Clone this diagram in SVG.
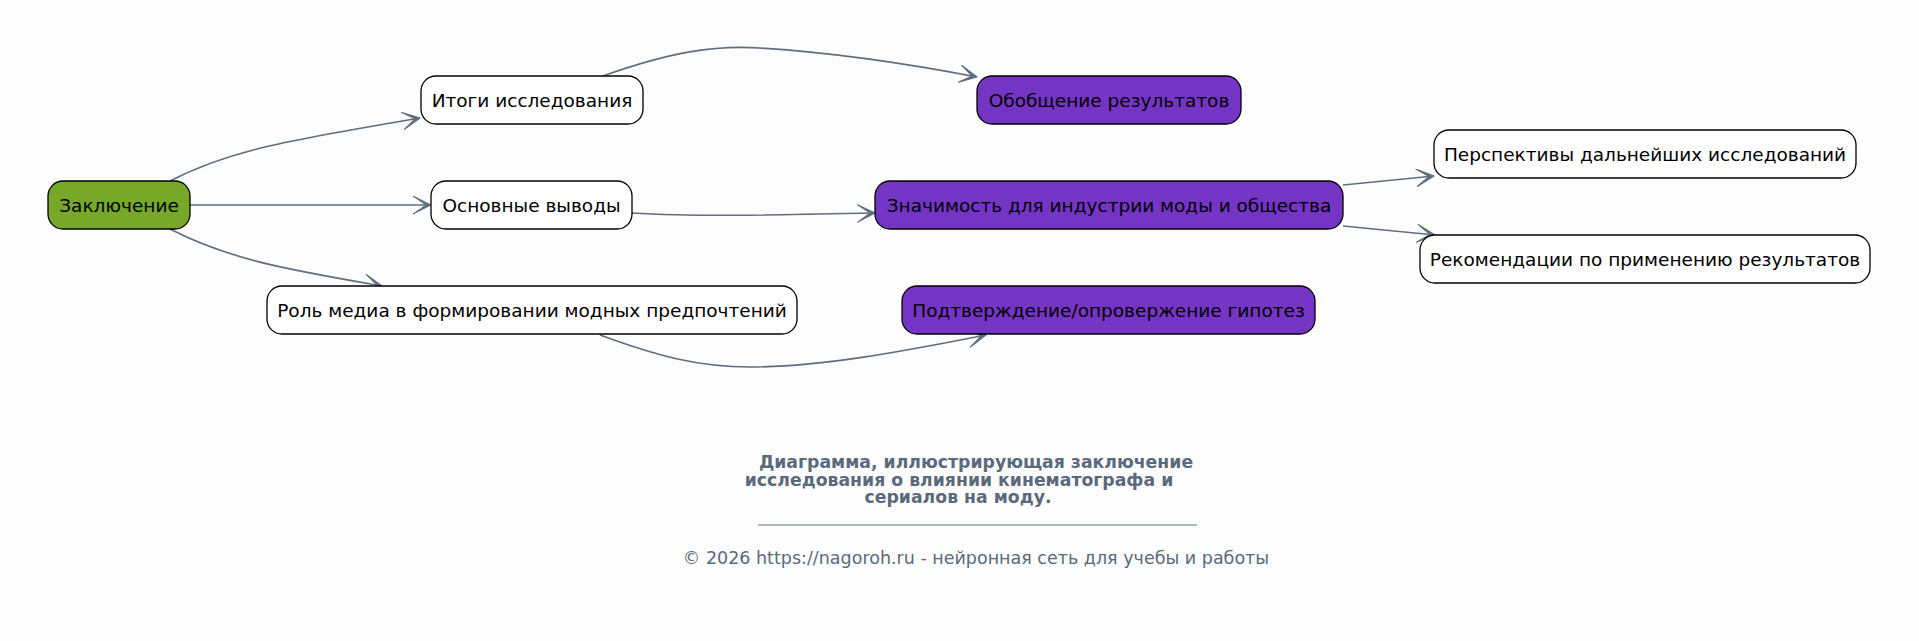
<svg xmlns="http://www.w3.org/2000/svg" width="1919" height="641" viewBox="0 0 1919 641">
<defs>
<style>
.node rect{stroke:#000;stroke-width:1.3}
.plain rect{fill:#fff}
.root rect{fill:#77a82a}
.hl rect{fill:#7535c4}
.node text{font-family:"DejaVu Sans",sans-serif;font-size:18.5px;fill:#000;text-anchor:middle}
.edge{fill:none;stroke:#5f6e7e;stroke-width:1.6;marker-end:url(#arr)}
.title{font-family:"DejaVu Sans",sans-serif;font-size:17.3px;font-weight:bold;fill:#5a6a7c;text-anchor:middle}
.foot{font-family:"DejaVu Sans",sans-serif;font-size:17.5px;fill:#5a6a7c;text-anchor:middle}
</style>
<marker id="arr" markerUnits="userSpaceOnUse" markerWidth="20" markerHeight="20" viewBox="0 0 20 20" refX="18" refY="9" orient="auto">
<path d="M0,0 L18,9 L0,18 L13,9 Z" fill="#5f6e7e" stroke="#5f6e7e" stroke-width="1" stroke-linejoin="round"/>
</marker>
</defs>
<rect width="1919" height="641" fill="#fdfdfd"/>
<g id="connectors">
<path class="edge" d="M170,181 C230,150 290,140 420,118"/>
<path class="edge" d="M190,205 L431,205"/>
<path class="edge" d="M170,229 C230,260 290,270 382,286"/>
<path class="edge" d="M603,76 C670,52 715,45 760,48 C840,53 920,66 977,77"/>
<path class="edge" d="M632,213 C700,217 780,215 875,213"/>
<path class="edge" d="M600,335 C660,357 700,367 750,367 C820,367 900,352 986,335"/>
<path class="edge" d="M1343,185 L1434,176"/>
<path class="edge" d="M1343,226 L1435,235"/>
</g>
<g id="n-zakl" class="node root"><rect x="48" y="181" width="142" height="48" rx="15"/><text x="119" y="211.5">Заключение</text></g>
<g id="n-itogi" class="node plain"><rect x="421" y="76" width="222" height="48" rx="15"/><text x="532" y="106.5">Итоги исследования</text></g>
<g id="n-osn" class="node plain"><rect x="431" y="181" width="201" height="48" rx="15"/><text x="531.5" y="211.5">Основные выводы</text></g>
<g id="n-rol" class="node plain"><rect x="267" y="286" width="530" height="48" rx="15"/><text x="532" y="316.5">Роль медиа в формировании модных предпочтений</text></g>
<g id="n-obob" class="node hl"><rect x="977" y="76" width="264" height="48" rx="15"/><text x="1109" y="106.5">Обобщение результатов</text></g>
<g id="n-znach" class="node hl"><rect x="875" y="181" width="468" height="48" rx="15"/><text x="1109" y="211.5">Значимость для индустрии моды и общества</text></g>
<g id="n-podt" class="node hl"><rect x="902" y="286" width="413" height="48" rx="15"/><text x="1108.5" y="316.5">Подтверждение/опровержение гипотез</text></g>
<g id="n-persp" class="node plain"><rect x="1434" y="130" width="422" height="48" rx="15"/><text x="1645" y="160.5">Перспективы дальнейших исследований</text></g>
<g id="n-rek" class="node plain"><rect x="1420" y="235" width="450" height="48" rx="15"/><text x="1645" y="265.5">Рекомендации по применению результатов</text></g>
<g id="caption">
<text class="title" x="976" y="468">Диаграмма, иллюстрирующая заключение</text>
<text class="title" x="959" y="486">исследования о влиянии кинематографа и</text>
<text class="title" x="958" y="503">сериалов на моду.</text>
<line x1="758" y1="525" x2="1197" y2="525" stroke="#4e5d6e" stroke-width="0.9"/>
<text class="foot" x="976" y="564">© 2026 https://nagoroh.ru - нейронная сеть для учебы и работы</text>
</g>
</svg>
